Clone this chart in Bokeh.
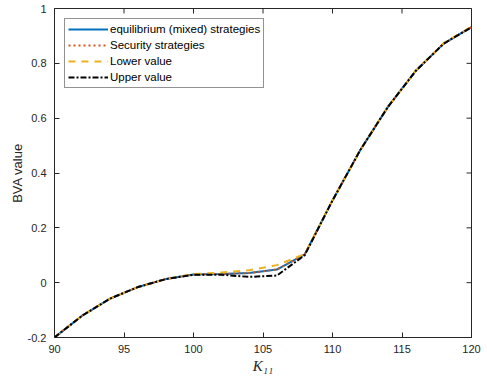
import math
from bokeh.plotting import figure
from bokeh.models import Range1d, FixedTicker, Legend, LegendItem
from bokeh.embed import file_html
from bokeh.resources import INLINE

# ---- data ----
k11 = [90, 92, 94, 96, 98, 100, 102, 104, 106, 108, 110, 112, 114, 116, 118, 120]
equilibrium = [-0.200, -0.120, -0.058, -0.016, 0.013, 0.030, 0.032, 0.035, 0.048,
               0.103, 0.300, 0.484, 0.642, 0.773, 0.872, 0.932]
security = [-0.200, -0.120, -0.058, -0.016, 0.013, 0.030, 0.032, 0.035, 0.048,
            0.103, 0.300, 0.484, 0.642, 0.773, 0.872, 0.932]
lower_value = [-0.200, -0.120, -0.058, -0.016, 0.013, 0.031, 0.037, 0.045, 0.064,
               0.104, 0.300, 0.484, 0.642, 0.773, 0.874, 0.934]
upper_value = [-0.200, -0.120, -0.058, -0.016, 0.013, 0.029, 0.029, 0.021, 0.026,
               0.100, 0.300, 0.484, 0.642, 0.773, 0.872, 0.932]

x_ticks = [90, 95, 100, 105, 110, 115, 120]
y_ticks = [-0.2, 0, 0.2, 0.4, 0.6, 0.8, 1]
y_tick_labels = ["-0.2", "0", "0.2", "0.4", "0.6", "0.8", "1"]
series_names = ["equilibrium (mixed) strategies", "Security strategies",
                "Lower value", "Upper value"]
x_min, x_max = 90, 120
y_min, y_max = -0.2, 1

AX = "#262626"
FONT = "Liberation Sans"

p = figure(width=487, height=379, output_backend="svg", toolbar_location=None,
           x_range=Range1d(x_min, x_max), y_range=Range1d(y_min, y_max),
           y_axis_label="BVA value", x_axis_label="K\u2081\u2081")
p.min_border_left = 54
p.min_border_right = 16
p.min_border_top = 8
p.min_border_bottom = 42
p.grid.visible = False
p.outline_line_color = AX
p.outline_line_width = 1
p.background_fill_color = "white"
p.border_fill_color = "white"

p.xaxis.ticker = FixedTicker(ticks=x_ticks)
p.yaxis.ticker = FixedTicker(ticks=y_ticks)
p.yaxis.major_label_overrides = {t: l for t, l in zip(y_ticks, y_tick_labels)}
for ax in (p.xaxis[0], p.yaxis[0]):
    ax.axis_line_color = AX
    ax.major_tick_line_color = AX
    ax.major_tick_in = 5
    ax.major_tick_out = 0
    ax.minor_tick_line_color = None
    ax.major_label_text_font = FONT
    ax.major_label_text_font_size = "11px"
    ax.major_label_text_color = AX
p.yaxis.major_label_standoff = 8
p.xaxis.major_label_standoff = 7
p.yaxis.axis_label_text_font = FONT
p.yaxis.axis_label_text_font_size = "13px"
p.yaxis.axis_label_text_font_style = "normal"
p.yaxis.axis_label_text_color = AX
p.yaxis.axis_label_standoff = 0
p.xaxis.axis_label_text_font = "Liberation Serif"
p.xaxis.axis_label_text_font_size = "15px"
p.xaxis.axis_label_text_font_style = "italic"
p.xaxis.axis_label_text_color = AX
p.xaxis.axis_label_standoff = 2

# inward ticks on the top and right edges of the box
p.scatter(x=x_ticks, y=[y_max] * len(x_ticks), marker="dash", size=10,
          angle=math.pi / 2, line_color=AX, line_width=1)
p.scatter(x=[x_max] * len(y_ticks), y=y_ticks, marker="dash", size=10,
          line_color=AX, line_width=1)

r1 = p.line(k11, equilibrium, line_color="#0072BD", line_width=2)
r2 = p.line(k11, security, line_color="#D95319", line_width=2, line_dash="2 3")
r3 = p.line(k11, lower_value, line_color="#EDB120", line_width=2, line_dash="7 6")
r4 = p.line(k11, upper_value, line_color="#000000", line_width=2, line_dash="6 2 2 2")

legend = Legend(items=[LegendItem(label=n, renderers=[r]) for n, r in
                       zip(series_names, [r1, r2, r3, r4])],
                location="top_left")
legend.label_text_font = FONT
legend.label_text_font_size = "11.5px"
legend.label_text_color = "black"
legend.glyph_width = 40
legend.glyph_height = 14
legend.label_height = 14
legend.label_standoff = 2
legend.spacing = 2
legend.padding = 3
legend.margin = 10
legend.border_line_color = AX
legend.border_line_width = 1
legend.background_fill_color = "white"
p.add_layout(legend)

open("out.html", "w").write(file_html(p, INLINE))
